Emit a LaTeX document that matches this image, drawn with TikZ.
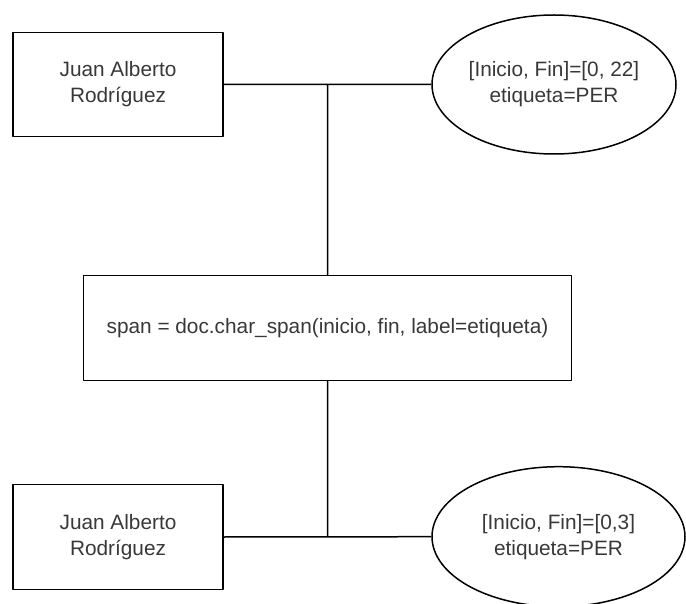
\documentclass[tikz,border=0pt]{standalone}
\usepackage{fontspec}
\setmainfont{Liberation Sans}
\usetikzlibrary{shapes.geometric}
\tikzset{
  caja/.style={draw,line width=1.5pt,minimum width=210,minimum height=104,align=center,inner sep=0pt},
  elipse/.style={draw,ellipse,line width=1.5pt,align=center,inner sep=0pt},
}
\begin{document}
\begin{tikzpicture}[x=1pt,y=-1pt,line join=round,font=\fontsize{20.8}{26}\selectfont,text=black!78]
\useasboundingbox (0,0) rectangle (686,604);
\def\xm{327.5}\def\ya{84.3}\def\yb{537}
% entidad original
\node[caja] (nombreA) at (118,\ya) {Juan Alberto\\Rodríguez};
\node[elipse,minimum width=244,minimum height=139] (spanA) at (554,84.5) {[Inicio, Fin]=[0, 22]\\etiqueta=PER};
% llamada
\node[caja,minimum width=488,minimum height=104.5] (llamada) at (\xm,328) {span = doc.char\_span(inicio, fin, label=etiqueta)};
% entidad resultante
\node[caja,minimum height=105] (nombreB) at (118,\yb) {Juan Alberto\\Rodríguez};
\node[elipse,minimum width=253,minimum height=140] (spanB) at (558.5,536.7) {[Inicio, Fin]=[0,3]\\etiqueta=PER};
\coordinate (uA) at (\xm,\ya);
\coordinate (uB) at (\xm,\yb);
\draw[line width=1.5pt] (nombreA.east)--(spanA.west) (uA)--(llamada.north);
\draw[line width=1.5pt] (nombreB.east)--(spanB.west) (llamada.south)--(uB);
\end{tikzpicture}
\end{document}
